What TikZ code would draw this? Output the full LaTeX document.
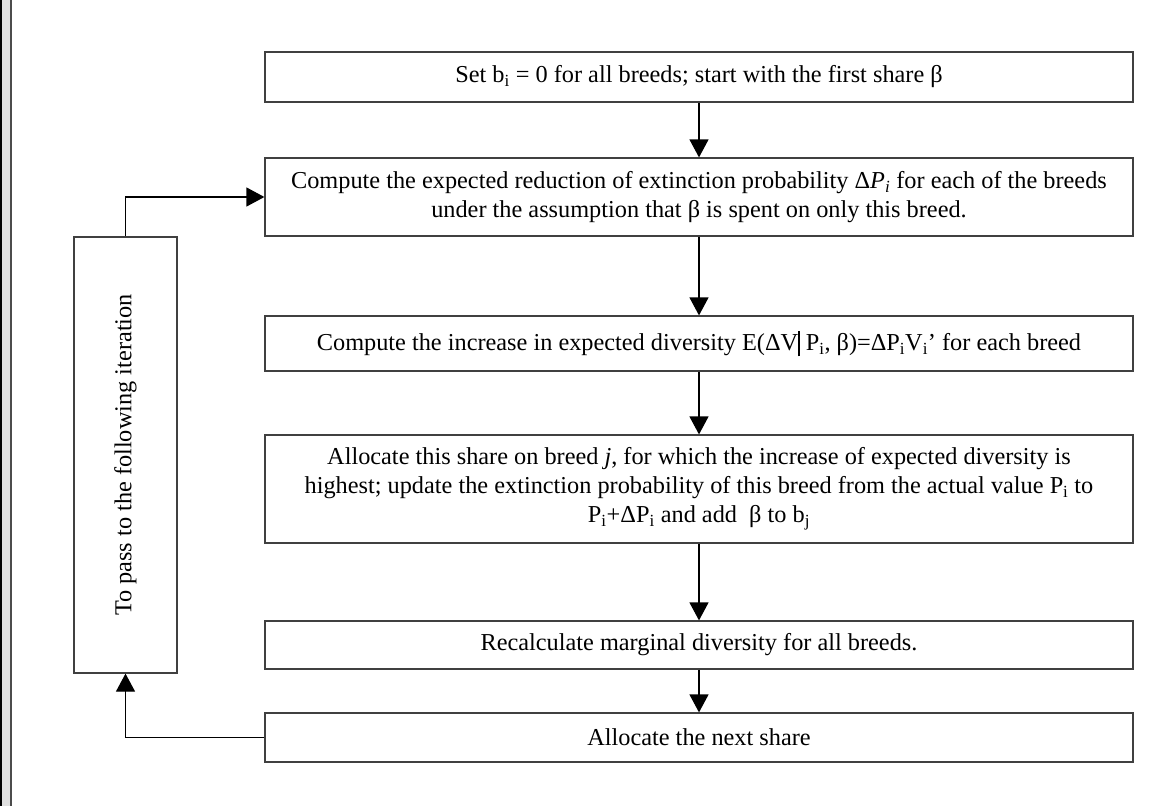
\documentclass[tikz,border=0pt]{standalone}
\usepackage{fontspec}
\setmainfont{Liberation Serif}
\usepackage{tikz}
\usetikzlibrary{arrows.meta}

\newcommand{\sub}[1]{\textsubscript{#1}}
\newcommand{\condbar}{\rule[-0.22em]{1.6pt}{1.05em}}

\begin{document}
\begin{tikzpicture}[x=1pt, y=-1pt,
    stepbox/.style={draw=black!75, line width=1.2pt, rectangle, inner sep=0pt,
        minimum width=868pt, align=center, font=\fontsize{24.3}{29}\selectfont},
    arr/.style={line width=1.2pt, -{Triangle[length=18pt, width=19pt]}}]
    \useasboundingbox (0,0) rectangle (1154,806);

    % Left margin
    \fill[gray!25] (0,0) rectangle (10,806);
    \draw[black, line width=1.5pt] (0.75,0) -- (0.75,806);
    \draw[black!70, line width=2pt] (10.5,0) -- (10.5,806);

    % Steps
    \node[stepbox, minimum height=50pt] (start) at (699,77)
        {Set b\sub{i} = 0 for all breeds; start with the first share β};
    \node[stepbox, minimum height=78pt] (reduce) at (699,197)
        {Compute the expected reduction of extinction probability Δ\textit{P}\sub{\textit{i}} for each of the breeds\\
         under the assumption that β is spent on only this breed.};
    \node[stepbox, minimum height=55pt] (gain) at (699,343.5)
        {Compute the increase in expected diversity E(ΔV\condbar\ P\sub{i}, β)=ΔP\sub{i}V\sub{i}’ for each breed};
    \node[stepbox, minimum height=108pt] (alloc) at (699,489)
        {Allocate this share on breed \textit{j}, for which the increase of expected diversity is\\
         highest; update the extinction probability of this breed from the actual value P\sub{i} to\\
         P\sub{i}+ΔP\sub{i} and add~ β to b\sub{j}};
    \node[stepbox, minimum height=48pt] (recalc) at (699,645)
        {Recalculate marginal diversity for all breeds.};
    \node[stepbox, minimum height=49pt] (next) at (699,737.5)
        {Allocate the next share};

    % Loop box
    \node[stepbox, minimum width=103pt, minimum height=436pt] (pass) at (125.5,455)
        {\rotatebox{90}{To pass to the following iteration}};

    % Arrows
    \draw[arr] (start) -- (reduce);
    \draw[arr] (reduce) -- (gain);
    \draw[arr] (gain) -- (alloc);
    \draw[arr] (alloc) -- (recalc);
    \draw[arr] (recalc) -- (next);
    \draw[arr] (next.west) -| (pass.south);
    \draw[arr] (pass.north) |- (reduce.west);

\end{tikzpicture}
\end{document}
